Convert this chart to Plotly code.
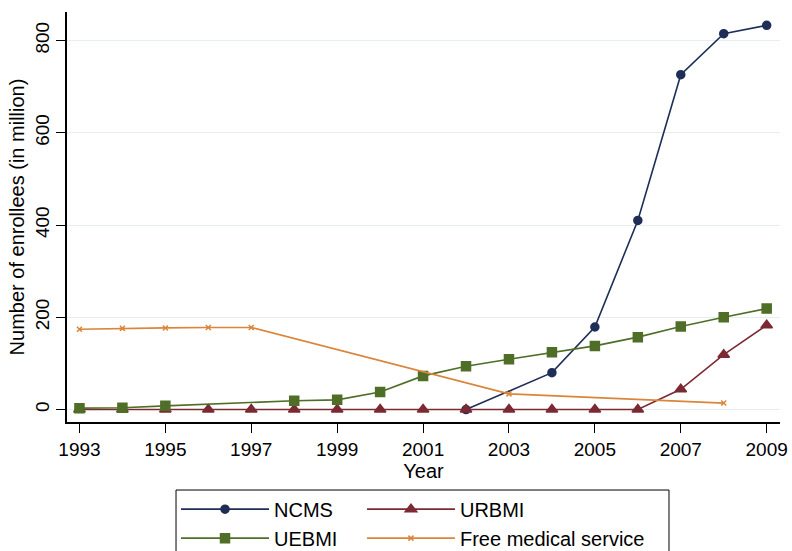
import plotly.graph_objects as go

# Enrollment in China's health insurance schemes, 1993-2009 (million people)
years = list(range(1993, 2010))
ncms = [None, None, None, None, None, None, None, None, None, 0,
        None, 80, 179, 410, 726, 815, 833]
urbmi = [0, 0, 0, 0, 0, 0, 0, 0, 0, 0, 0, 0, 0, 0, 44, 119, 183]
uebmi = [3, 4, 8, None, None, 19, 21, 38, 73, 94, 109, 124, 138, 157, 180, 200, 219]
free_medical = [174, 176, 177, 178, 178, None, None, None, None, None,
                34, None, None, None, None, 14, None]

x_ticks = list(range(1993, 2010, 2))
y_ticks = [0, 200, 400, 600, 800]

FONT = "Liberation Sans, Arial, Helvetica, sans-serif"

# name, values, colour, marker, marker size, legend column
series = [
    ("NCMS", ncms, "#1f2e57", "circle", 8, "legend"),
    ("URBMI", urbmi, "#7b2a33", "triangle-up", 10, "legend2"),
    ("UEBMI", uebmi, "#4f6e27", "square", 9, "legend"),
    ("Free medical service", free_medical, "#da853a", "x-thin-open", 5, "legend2"),
]

fig = go.Figure()
for name, vals, color, symbol, size, leg in series:
    fig.add_trace(go.Scatter(
        x=years, y=vals, name=name, mode="lines+markers",
        connectgaps=True, legend=leg,
        line=dict(color=color, width=1.6),
        marker=dict(symbol=symbol, size=size, color=color,
                    line=dict(color=color, width=1.5)),
    ))

legend_common = dict(
    orientation="v", xanchor="left", y=-0.165, yanchor="top",
    itemwidth=88, bgcolor="rgba(0,0,0,0)", borderwidth=0,
    font=dict(family=FONT, size=20, color="black"),
    traceorder="normal",
)

fig.update_layout(
    width=792, height=551,
    margin=dict(l=67, r=12, t=12, b=129, autoexpand=False),
    paper_bgcolor="white", plot_bgcolor="white",
    font=dict(family=FONT, size=19, color="black"),
    legend=dict(x=0.1529, **legend_common),
    legend2=dict(x=0.4137, **legend_common),
    # frame around the two legend columns
    shapes=[dict(type="rect", xref="paper", yref="paper",
                 x0=0.1529, x1=0.8443, y0=-0.1659, y1=-0.3366,
                 line=dict(color="black", width=1), layer="below")],
    xaxis=dict(
        range=[1992.71, 2009.31], tickvals=x_ticks,
        ticks="outside", ticklen=9, tickwidth=1, tickcolor="black",
        showline=True, linecolor="black", linewidth=1.5,
        showgrid=False, zeroline=False,
        title=dict(text="Year", standoff=3, font=dict(size=20)),
        tickfont=dict(size=19),
    ),
    yaxis=dict(
        range=[-27, 862], tickvals=y_ticks, tickangle=-90,
        ticks="outside", ticklen=9, tickwidth=1, tickcolor="black",
        showline=True, linecolor="black", linewidth=1.5,
        showgrid=True, gridcolor="#e6eef0", gridwidth=1,
        zeroline=False,
        title=dict(text="Number of enrollees (in million)", standoff=2,
                   font=dict(size=20)),
        tickfont=dict(size=19),
    ),
)

fig.write_html("out.html")
